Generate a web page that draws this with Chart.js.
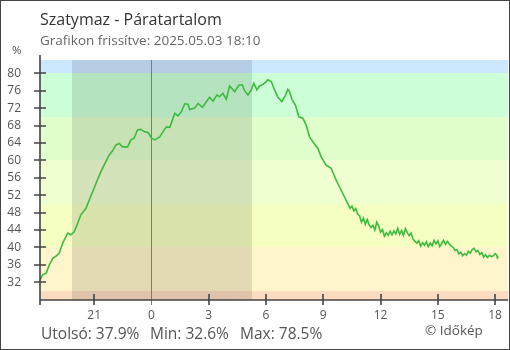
<!DOCTYPE html>
<html>
<head>
<meta charset="utf-8">
<script src="https://cdn.jsdelivr.net/npm/chart.js@4.4.1/dist/chart.umd.min.js"></script>
<style>
  body { margin: 0; background: #fff; font-family: 'Open Sans', sans-serif; }
  #wrap { position: relative; width: 510px; height: 350px; border: 1px solid #444; box-sizing: border-box; overflow: hidden; }
  #wrap canvas { position: absolute; left: -1px; top: -1px; }
  .t { position: absolute; white-space: pre; line-height: 1; color: #555; }
  #title { left: 39px; top: 10px; font-size: 16px; color: #333; }
  #sub { left: 39px; top: 33px; font-size: 13.5px; color: #666; }
  #unit { left: 11px; top: 43px; font-size: 11.5px; }
  .stat { top: 325px; font-size: 15.5px; }
  #copy { left: 424px; top: 323px; font-size: 13.5px; }
</style>
</head>
<body>
<div id="wrap">
  <canvas id="chart" width="510" height="350"></canvas>
  <div class="t" id="title">Szatymaz - Páratartalom</div>
  <div class="t" id="sub">Grafikon frissítve: 2025.05.03 18:10</div>
  <div class="t" id="unit">%</div>
  <div class="t stat" style="left:40px">Utolsó: 37.9%</div>
  <div class="t stat" style="left:149px">Min: 32.6%</div>
  <div class="t stat" style="left:239px">Max: 78.5%</div>
  <div class="t" id="copy">© Időkép</div>
</div>
<script>
// hours relative to midnight (yesterday is negative), 18:10 -> 18:10
const times = [
  -5.83, -5.70, -5.52, -5.35, -5.17, -5.00, -4.83, -4.65, -4.39, -4.22,
  -4.05, -3.87, -3.70, -3.43, -3.26, -3.08, -2.91, -2.65, -2.39, -2.22,
  -2.04, -1.87, -1.69, -1.52, -1.25, -1.08, -0.91, -0.73, -0.56, -0.39,
  -0.18, 0.00, 0.17, 0.43, 0.61, 0.78, 0.96, 1.13, 1.22, 1.39,
  1.57, 1.74, 1.91, 2.00, 2.26, 2.44, 2.67, 2.88, 3.05, 3.22,
  3.43, 3.57, 3.74, 3.92, 4.09, 4.36, 4.58, 4.76, 4.88, 5.05,
  5.23, 5.36, 5.52, 5.66, 5.87, 6.10, 6.27, 6.45, 6.62, 6.83,
  7.02, 7.14, 7.23, 7.37, 7.54, 7.72, 7.93, 8.10, 8.28, 8.45,
  8.71, 8.89, 9.15, 9.41, 9.67, 9.84, 10.10,
  10.30, 10.40, 10.50, 10.60, 10.70, 10.80, 10.90, 11.00, 11.10, 11.20,
  11.30, 11.40, 11.50, 11.60, 11.70, 11.80, 11.90, 12.00, 12.10, 12.20,
  12.30, 12.40, 12.50, 12.60, 12.70, 12.80, 12.90, 13.00, 13.10, 13.20,
  13.30, 13.40, 13.50, 13.60, 13.70, 13.80, 13.90, 14.00, 14.10, 14.20,
  14.30, 14.40, 14.50, 14.60, 14.70, 14.80, 14.90, 15.00, 15.10, 15.20,
  15.30, 15.40, 15.50, 15.60, 15.70, 15.80, 15.90, 16.00, 16.10, 16.20,
  16.30, 16.40, 16.50, 16.60, 16.70, 16.80, 16.90, 17.00, 17.10, 17.20,
  17.30, 17.40, 17.50, 17.60, 17.70, 17.80, 17.90, 18.00, 18.08, 18.12,
  18.17,
];
const humidity = [
  32.6, 33.7, 34.1, 36.0, 37.5, 38.0, 38.7, 41.0, 43.3, 42.9,
  43.6, 45.5, 47.5, 49.0, 50.9, 52.8, 54.7, 57.4, 59.7, 61.2,
  62.2, 63.5, 63.9, 63.1, 63.1, 64.7, 65.1, 67.0, 67.1, 66.6,
  66.4, 65.1, 64.7, 65.4, 66.6, 67.7, 67.6, 69.7, 70.8, 70.2,
  71.2, 73.0, 72.9, 71.7, 72.0, 73.1, 72.2, 73.5, 74.5, 73.6,
  75.0, 74.6, 75.4, 74.0, 77.1, 75.8, 77.3, 77.3, 76.0, 75.0,
  76.2, 77.7, 76.2, 77.1, 77.5, 78.5, 78.1, 76.2, 74.5, 73.5,
  75.0, 76.3, 75.8, 73.9, 72.7, 70.0, 69.7, 68.1, 65.4, 64.3,
  62.8, 60.8, 58.9, 58.2, 55.5, 54.0, 51.7,
  49.9, 49.0, 49.5, 48.4, 48.9, 47.6, 47.3, 45.8, 46.7, 45.3,
  46.4, 45.2, 44.6, 45.1, 44.0, 45.8, 44.9, 43.5, 44.1, 42.6,
  43.4, 42.8, 43.7, 42.9, 43.8, 43.1, 44.4, 43.0, 43.9, 42.8,
  44.3, 43.4, 42.7, 43.3, 41.9, 41.4, 41.0, 41.5, 40.3, 41.1,
  40.5, 41.3, 40.2, 41.0, 40.4, 41.6, 40.8, 41.5, 40.2, 40.9,
  41.6, 40.7, 41.4, 40.8, 40.3, 40.0, 39.3, 39.5, 38.5, 38.9,
  38.1, 38.6, 38.2, 39.1, 38.7, 39.5, 39.8, 39.0, 39.3, 38.4,
  38.8, 37.8, 38.3, 37.7, 38.2, 37.9, 38.1, 38.6, 38.3, 37.6,
  37.9,
];

const xTicks = [-3, 0, 3, 6, 9, 12, 15, 18];
const xTickLabels = ['21', '0', '3', '6', '9', '12', '15', '18'];
const yTicks = [32, 36, 40, 44, 48, 52, 56, 60, 64, 68, 72, 76, 80];

// background bands, bottom to top
const bandEdges = [30, 40, 50, 60, 70, 80];
const bandColors = ['#fcdcc0', '#fff5cc', '#f6ffc2', '#efffd0', '#e0ffcc', '#ccffd8', '#cce8ff'];

// night (sunset -> sunrise)
const nightStart = -4.18;
const nightEnd = 5.27;

const decor = {
  id: 'decor',
  beforeDatasetsDraw(chart) {
    const { ctx, chartArea: a, scales: { x, y } } = chart;
    ctx.save();
    bandColors.forEach((c, i) => {
      const lo = i === 0 ? y.min : bandEdges[i - 1];
      const hi = i === bandEdges.length ? y.max : bandEdges[i];
      const y1 = Math.round(y.getPixelForValue(hi));
      const y2 = Math.round(y.getPixelForValue(lo));
      ctx.fillStyle = c;
      ctx.fillRect(a.left, y1, a.right - a.left, y2 - y1);
    });
    const n1 = Math.round(x.getPixelForValue(nightStart));
    const n2 = Math.round(x.getPixelForValue(nightEnd));
    ctx.fillStyle = 'rgba(0,0,0,0.11)';
    ctx.fillRect(n1, a.top, n2 - n1, a.bottom - a.top);
    const m = Math.round(x.getPixelForValue(0)) + 0.5;
    ctx.strokeStyle = '#2f8fd8';
    ctx.lineWidth = 1;
    ctx.beginPath();
    ctx.moveTo(m, a.top);
    ctx.lineTo(m, a.bottom + 5);
    ctx.stroke();
    ctx.restore();
  },
  afterDraw(chart) {
    const { ctx, chartArea: a, scales: { x, y } } = chart;
    ctx.save();
    ctx.strokeStyle = '#444';
    ctx.lineWidth = 1.6;
    ctx.beginPath();
    ctx.moveTo(a.left, a.top - 5);
    ctx.lineTo(a.left, a.bottom + 5);
    ctx.moveTo(a.left, a.bottom);
    ctx.lineTo(a.right, a.bottom);
    yTicks.forEach(v => {
      const p = Math.round(y.getPixelForValue(v));
      ctx.moveTo(a.left - 6, p);
      ctx.lineTo(a.left + 6, p);
    });
    xTicks.forEach(v => {
      const p = Math.round(x.getPixelForValue(v));
      if (v === 0) return;
      ctx.moveTo(p, a.bottom - 6);
      ctx.lineTo(p, a.bottom + 5);
    });
    ctx.stroke();
    ctx.restore();
  },
};

Chart.defaults.font.family = "'Open Sans', sans-serif";
Chart.defaults.color = '#555';

new Chart(document.getElementById('chart'), {
  type: 'line',
  data: {
    datasets: [{
      data: times.map((t, i) => ({ x: t, y: humidity[i] })),
      borderColor: '#3dbb3d',
      borderWidth: 1.6,
      pointRadius: 0,
      tension: 0,
      fill: false,
    }],
  },
  options: {
    responsive: false,
    animation: false,
    devicePixelRatio: 1,
    layout: { padding: { top: 60, right: 1, left: 0, bottom: 0 } },
    plugins: { legend: { display: false }, tooltip: { enabled: false } },
    scales: {
      x: {
        type: 'linear',
        min: -5.84,
        max: 18.68,
        grid: { display: false, drawTicks: false },
        border: { display: false },
        afterFit: s => { s.height = 50; },
        afterBuildTicks: s => { s.ticks = xTicks.map(v => ({ value: v })); },
        ticks: {
          padding: 8,
          maxRotation: 0,
          autoSkip: false,
          font: { size: 12 },
          callback: v => xTickLabels[xTicks.indexOf(v)],
        },
      },
      y: {
        min: 27.93,
        max: 83.05,
        grid: { display: false, drawTicks: false },
        border: { display: false },
        afterFit: s => { s.width = 40; },
        afterBuildTicks: s => { s.ticks = yTicks.map(v => ({ value: v })); },
        ticks: { padding: 19, autoSkip: false, font: { size: 12 } },
      },
    },
  },
  plugins: [decor],
});
</script>
</body>
</html>
